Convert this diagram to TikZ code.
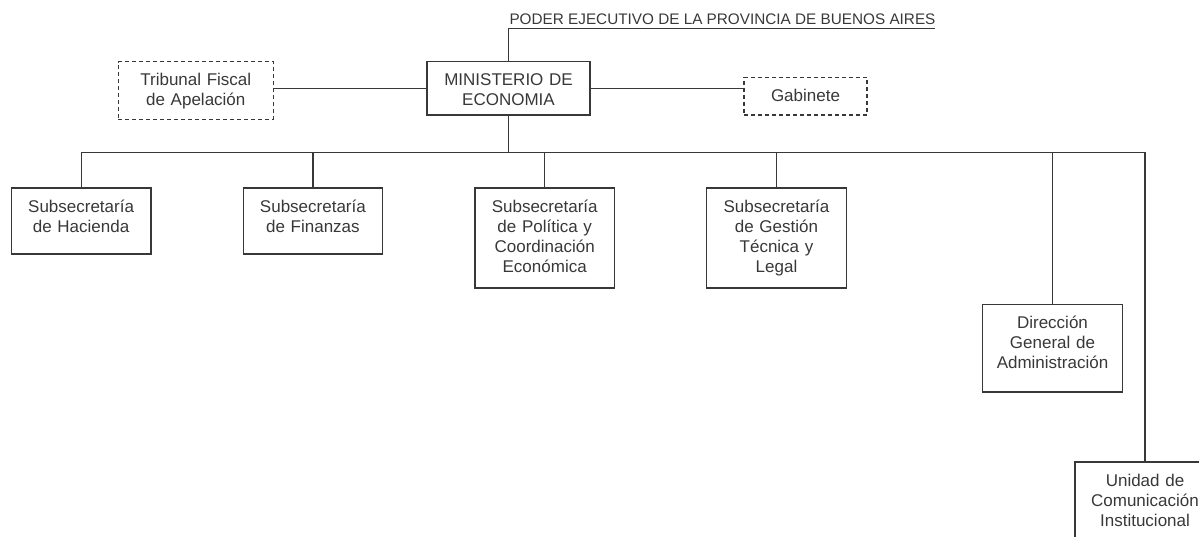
\documentclass[tikz,border=0pt]{standalone}
\usepackage{fontspec}
\setmainfont{Liberation Sans}
\usetikzlibrary{positioning}
\definecolor{ink}{gray}{0.22}
\tikzstyle{block} = [rectangle, draw=ink, text=ink, line width=1.2pt, outer sep=0pt,
    inner xsep=0pt, inner ysep=0pt, text centered, text width=139.6pt,
    text height=24pt, font=\fontsize{17}{20}\selectfont]
\tikzstyle{aux} = [block, dash pattern=on 4pt off 3pt]
\tikzstyle{head} = [text=ink, inner sep=0pt, outer sep=0pt, text height=11pt, text depth=3.8pt,
    font=\fontsize{15.3}{18}\selectfont]
\tikzstyle{line} = [draw=ink, line width=1.2pt]

\begin{document}
\begin{tikzpicture}[x=1pt, y=-1pt]
    \useasboundingbox (0,0) rectangle (1199,536);
        % Place nodes
        \node [block, text width=163pt, text depth=29.3pt, anchor=north] (MIN) at (508.5,61.7) {MINISTERIO DE\\ECONOMIA};
        \node [head] (PEP) [above right=33.4pt and 1pt of MIN.north] {PODER EJECUTIVO DE LA PROVINCIA DE BUENOS AIRES};
        \node [aux, text width=155pt, text depth=33.7pt] (TFA) [left=153.7pt of MIN.north west, anchor=north east] {Tribunal Fiscal\\de Apelación};
        \node [aux, text width=123pt, text depth=13.7pt] (GAB) [below right=15.6pt and 154pt of MIN.north east] {Gabinete};
        \node [block, text depth=42pt, anchor=north west] (SH) at (11.3,188) {Subsecretaría\\de Hacienda};
        \node [block, text depth=42pt] (SF) [right=92.2pt of SH.north east, anchor=north west] {Subsecretaría\\de Finanzas};
        \node [block, text depth=76pt] (SP) [right=92.2pt of SF.north east, anchor=north west] {Subsecretaría\\de Política y\\Coordinación\\Económica};
        \node [block, text depth=76pt] (SG) [right=92.2pt of SP.north east, anchor=north west] {Subsecretaría\\de Gestión\\Técnica y\\Legal};
        \node [block, text depth=63.4pt] (DGA) [below right=116.6pt and 136.4pt of SG.north east] {Dirección\\General de\\Administración};
        \node [block, text width=140pt, text depth=63pt] (UCI) [below right=157.4pt and 92.3pt of DGA.north west] {Unidad de\\Comunicación\\Institucional};
        \coordinate [below=37.7pt of MIN.south] (bus);
        % Draw edges
        \path [line] (MIN.north) |- (PEP.south east);
        \path [line] (MIN.west) -- (MIN.west -| TFA.east);
        \path [line] (MIN.east) -- (MIN.east -| GAB.west);
        \path [line] (MIN.south) -- (bus);
        \path [line] (SH.north) |- (bus) -| (UCI.north);
        \foreach \n in {SF, SP, SG, DGA}
            \path [line] (\n.north) -- (\n.north |- bus);
    \end{tikzpicture}
\end{document}
